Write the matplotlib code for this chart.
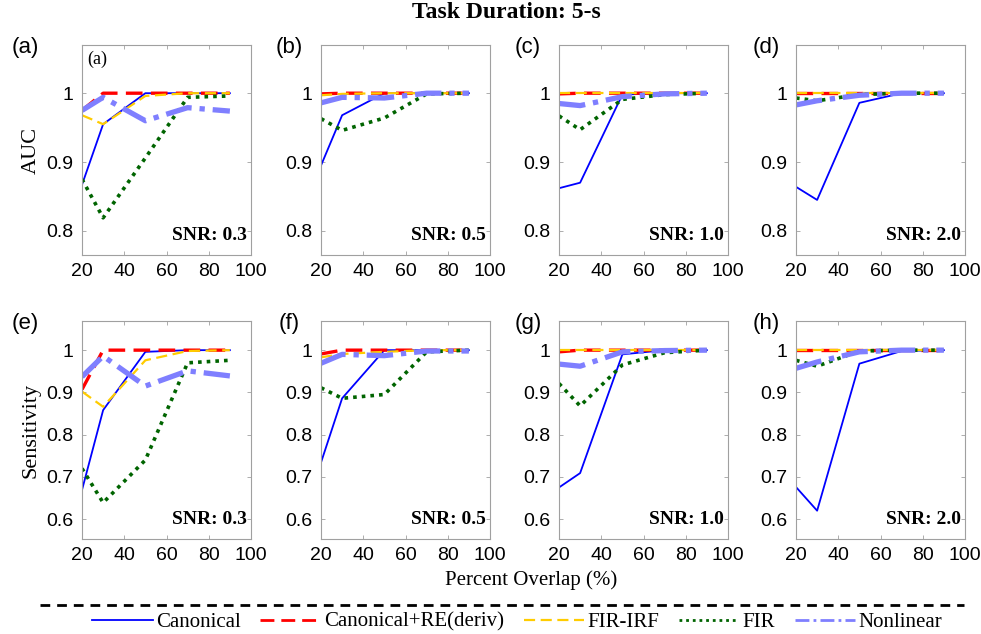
import numpy as np
import matplotlib
matplotlib.use('Agg')
import matplotlib.pyplot as plt
from matplotlib.lines import Line2D

# percent overlap
overlap = [20, 30, 50, 70, 90]
methods = ['Canonical', 'Canonical+RE(deriv)', 'FIR-IRF', 'FIR', 'Nonlinear']
snr_labels = ['SNR: 0.3', 'SNR: 0.5', 'SNR: 1.0', 'SNR: 2.0']
panel_tags = ['(a)', '(b)', '(c)', '(d)', '(e)', '(f)', '(g)', '(h)']

# AUC, one list per SNR, rows in methods order
auc_snr03 = [[0.867, 0.955, 1.000, 1.000, 1.000],
             [0.975, 1.000, 1.000, 1.000, 1.000],
             [0.968, 0.955, 0.996, 1.000, 1.000],
             [0.875, 0.819, 0.906, 0.994, 0.996],
             [0.975, 0.994, 0.960, 0.979, 0.974]]
auc_snr05 = [[0.895, 0.968, 1.000, 1.000, 1.000],
             [0.999, 1.000, 1.000, 1.000, 1.000],
             [0.997, 0.999, 1.000, 1.000, 1.000],
             [0.963, 0.946, 0.964, 0.999, 1.000],
             [0.986, 0.994, 0.993, 1.000, 1.000]]
auc_snr10 = [[0.862, 0.870, 0.998, 1.000, 1.000],
             [0.999, 1.000, 1.000, 1.000, 1.000],
             [1.000, 1.000, 1.000, 1.000, 1.000],
             [0.967, 0.947, 0.991, 0.998, 1.000],
             [0.985, 0.982, 0.995, 0.999, 1.000]]
auc_snr20 = [[0.864, 0.845, 0.986, 1.000, 1.000],
             [1.000, 1.000, 1.000, 1.000, 1.000],
             [1.000, 1.000, 1.000, 1.000, 1.000],
             [0.993, 0.989, 0.998, 1.000, 1.000],
             [0.983, 0.989, 0.997, 1.000, 1.000]]

# Sensitivity
sens_snr03 = [[0.669, 0.858, 0.996, 1.000, 1.000],
              [0.907, 1.000, 1.000, 1.000, 1.000],
              [0.902, 0.866, 0.976, 0.998, 1.000],
              [0.720, 0.639, 0.740, 0.970, 0.976],
              [0.937, 0.986, 0.915, 0.951, 0.939]]
sens_snr05 = [[0.734, 0.886, 1.000, 1.000, 1.000],
              [0.991, 1.000, 1.000, 1.000, 1.000],
              [0.983, 0.991, 0.996, 1.000, 1.000],
              [0.911, 0.886, 0.895, 0.996, 1.000],
              [0.969, 0.990, 0.987, 0.998, 0.998]]
sens_snr10 = [[0.675, 0.709, 0.990, 1.000, 1.000],
              [0.996, 1.000, 1.000, 1.000, 1.000],
              [1.000, 1.000, 1.000, 1.000, 1.000],
              [0.921, 0.868, 0.965, 0.994, 1.000],
              [0.967, 0.962, 0.996, 0.999, 1.000]]
sens_snr20 = [[0.676, 0.620, 0.968, 0.998, 1.000],
              [1.000, 1.000, 1.000, 1.000, 1.000],
              [1.000, 1.000, 1.000, 1.000, 1.000],
              [0.976, 0.962, 0.998, 1.000, 1.000],
              [0.957, 0.972, 0.996, 1.000, 1.000]]

auc_all = [auc_snr03, auc_snr05, auc_snr10, auc_snr20]
sens_all = [sens_snr03, sens_snr05, sens_snr10, sens_snr20]

styles = [dict(color='#0000ff', ls='-', lw=1.3),
          dict(color='#ff0000', ls=(0, (5, 2.5)), lw=2.4),
          dict(color='#ffcc00', ls=(0, (5, 2.5)), lw=1.6),
          dict(color='#006400', ls=(0, (1, 1.4)), lw=2.6),
          dict(color='#7f7fff', ls=(0, (5, 1.5, 1, 1.5)), lw=3.8)]

SANS = 'Liberation Sans'
SERIF = 'Liberation Serif'
W, H = 981, 634
fig = plt.figure(figsize=(W / 100, H / 100), dpi=100)

lefts = [82, 321, 559, 796]
tag_x = [25, 289, 528, 766]
rows = [(45, 255), (321, 539)]
spine_col = '#a0a0a0'


def make_ax(i, row):
    top, bot = rows[row]
    ax = fig.add_axes([lefts[i] / W, 1 - bot / H, 169 / W, (bot - top) / H])
    for s in ax.spines.values():
        s.set_color(spine_col)
        s.set_linewidth(0.8)
    ax.tick_params(direction='in', length=3, width=0.6, color=spine_col,
                   top=True, right=True, labelsize=14, pad=6)
    ax.set_xlim(20, 100)
    ax.set_xticks([20, 40, 60, 80, 100])
    return ax


for row, data in enumerate([auc_all, sens_all]):
    for i in range(4):
        ax = make_ax(i, row)
        for m in range(5):
            ax.plot(overlap, data[i][m], **styles[m])
        if row == 0:
            ax.set_ylim(0.765, 1.07)
            ax.set_yticks([0.8, 0.9, 1.0])
            ax.set_yticklabels(['0.8', '0.9', '1'])
        else:
            ax.set_ylim(0.553, 1.069)
            ax.set_yticks([0.6, 0.7, 0.8, 0.9, 1.0])
            ax.set_yticklabels(['0.6', '0.7', '0.8', '0.9', '1'])
        for lab in ax.get_xticklabels() + ax.get_yticklabels():
            lab.set_fontfamily(SANS)
        ax.text(0.975, 0.05, snr_labels[i], transform=ax.transAxes, ha='right',
                va='bottom', fontfamily=SERIF, fontweight='bold', fontsize=14)
        # panel tag outside
        fig.text(tag_x[i] / W, 1 - (rows[row][0] + 2) / H,
                 panel_tags[row * 4 + i], fontfamily=SANS, fontsize=16,
                 ha='center', va='center')
        if row == 0 and i == 0:
            ax.text(0.03, 0.975, '(a)', transform=ax.transAxes, ha='left',
                    va='top', fontfamily=SERIF, fontsize=13)
            ax.set_ylabel('AUC', fontfamily=SERIF, fontsize=16, labelpad=4)
        if row == 1 and i == 0:
            ax.set_ylabel('Sensitivity', fontfamily=SERIF, fontsize=16, labelpad=4)

fig.text(506 / W, 1 - 13 / H, 'Task Duration: 5-s', fontfamily=SERIF,
         fontweight='bold', fontsize=17, ha='center', va='center')
fig.text(531 / W, 1 - 580 / H, 'Percent Overlap (%)', fontfamily=SERIF,
         fontsize=15, ha='center', va='center')

fig.add_artist(Line2D([40 / W, 964 / W], [1 - 605 / H] * 2, color='k',
                      ls=(0, (3.5, 2.5)), lw=2))

handles = [Line2D([], [], **dict(styles[m], lw=min(styles[m]['lw'], 2.0)))
           for m in range(5)]
fig.legend(handles, methods, loc='center', bbox_to_anchor=(517 / W, 1 - 622 / H),
           ncol=5, frameon=False, handlelength=2.9, handletextpad=0.15,
           columnspacing=0.95, prop={'family': SERIF, 'size': 15})

fig.savefig('out.png', dpi=100)
